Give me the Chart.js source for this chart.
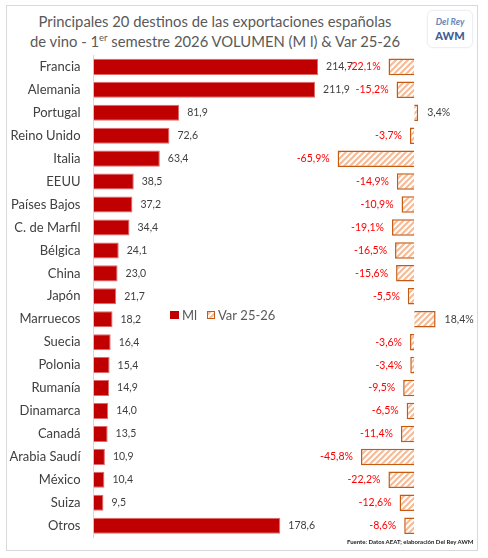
<!DOCTYPE html>
<html>
<head>
<meta charset="utf-8">
<script src="https://cdn.jsdelivr.net/npm/chart.js@4.4.1/dist/chart.umd.min.js"></script>
<style>
  body { margin: 0; background: #fff; font-family: Lato, sans-serif; }
  #marco { position: absolute; left: 6px; top: 5px; width: 470px; height: 544px; border: 1px solid #d9d9d9; }
  #titulo { position: absolute; left: 6px; top: 11px; width: 418px; text-align: center; color: #595959; font-size: 14.8px; line-height: 20px; }
  #titulo sup { font-size: 9.5px; line-height: 0; }
  #logo { position: absolute; left: 427px; top: 10px; width: 44px; height: 36px; border: 1px solid #eceff3; border-radius: 6px; text-align: center; box-shadow: 0 0 2px #eef0f4; }
  #logo .a { font-style: italic; font-weight: bold; color: #6a86bb; font-size: 9px; margin-top: 5px; }
  #logo .b { font-weight: 900; color: #3f5d96; font-size: 11px; margin-top: 2px; }
  #grafico { position: absolute; left: 0; top: 0; }
  #fuente { position: absolute; left: 347px; top: 538px; font-size: 6px; font-weight: bold; color: #222; white-space: nowrap; }
</style>
</head>
<body>
<div id="marco"></div>
<div id="titulo">Principales 20 destinos de las exportaciones españolas<br>de vino - 1<sup>er</sup> semestre 2026 VOLUMEN (M l) &amp; Var 25-26</div>
<div id="logo"><div class="a">Del Rey</div><div class="b">AWM</div></div>
<canvas id="grafico" width="488" height="558"></canvas>
<div id="fuente">Fuente: Datos AEAT; elaboración Del Rey AWM</div>
<script>
const paises = ['Francia', 'Alemania', 'Portugal', 'Reino Unido', 'Italia', 'EEUU', 'Países Bajos', 'C. de Marfil', 'Bélgica', 'China', 'Japón', 'Marruecos', 'Suecia', 'Polonia', 'Rumanía', 'Dinamarca', 'Canadá', 'Arabia Saudí', 'México', 'Suiza', 'Otros'];
const volumen = [214.7, 211.9, 81.9, 72.6, 63.4, 38.5, 37.2, 34.4, 24.1, 23.0, 21.7, 18.2, 16.4, 15.4, 14.9, 14.0, 13.5, 10.9, 10.4, 9.5, 178.6];
const variacion = [-22.1, -15.2, 3.4, -3.7, -65.9, -14.9, -10.9, -19.1, -16.5, -15.6, -5.5, 18.4, -3.6, -3.4, -9.5, -6.5, -11.4, -45.8, -22.2, -12.6, -8.6];

// trama rayada para la serie de variacion
function trama() {
  const c = document.createElement('canvas');
  c.width = 6; c.height = 6;
  const g = c.getContext('2d');
  g.fillStyle = '#fff';
  g.fillRect(0, 0, 6, 6);
  g.strokeStyle = '#f5b994';
  g.lineWidth = 2;
  g.beginPath();
  g.moveTo(0, 6); g.lineTo(6, 0);
  g.moveTo(-3, 3); g.lineTo(3, -3);
  g.moveTo(3, 9); g.lineTo(9, 3);
  g.stroke();
  return g.createPattern(c, 'repeat');
}
const rayas = trama();

const coma = (v, d) => v.toFixed(d).replace('.', ',');

// etiquetas de valor y leyenda
const etiquetas = {
  id: 'etiquetas',
  afterDatasetsDraw(chart) {
    const ctx = chart.ctx;
    ctx.save();
    ctx.font = '10.5px Lato';
    ctx.textBaseline = 'middle';
    chart.getDatasetMeta(0).data.forEach((bar, i) => {
      ctx.fillStyle = '#404040';
      ctx.textAlign = 'left';
      ctx.fillText(coma(volumen[i], 1), bar.x + 8, bar.y);
    });
    chart.getDatasetMeta(1).data.forEach((bar, i) => {
      const v = variacion[i];
      if (v < 0) {
        ctx.fillStyle = '#ff0000';
        ctx.textAlign = 'right';
        ctx.fillText(coma(v, 1) + '%', bar.x - 8, bar.y);
      } else {
        ctx.fillStyle = '#404040';
        ctx.textAlign = 'left';
        ctx.fillText(coma(v, 1) + '%', bar.x + 9, bar.y);
      }
    });

    // leyenda
    const ds = chart.data.datasets;
    ctx.font = '13px Lato';
    ctx.textAlign = 'left';
    ctx.fillStyle = '#c00000';
    ctx.fillRect(170, 311, 9, 8);
    ctx.fillStyle = '#595959';
    ctx.fillText(ds[0].label, 182, 315.5);
    ctx.fillStyle = rayas;
    ctx.fillRect(207.5, 311.5, 7, 7);
    ctx.strokeStyle = '#c55a11';
    ctx.lineWidth = 1;
    ctx.strokeRect(207.5, 311.5, 7, 7);
    ctx.fillStyle = '#595959';
    ctx.fillText(ds[1].label, 218, 315.5);
    ctx.restore();
  }
};

new Chart(document.getElementById('grafico'), {
  type: 'bar',
  data: {
    labels: paises,
    datasets: [{
      label: 'Ml',
      data: volumen,
      xAxisID: 'x',
      backgroundColor: '#c00000',
      borderColor: '#e06a6a',
      borderWidth: 1,
      grouped: false,
      barPercentage: 0.7,
      categoryPercentage: 1
    }, {
      label: 'Var 25-26',
      data: variacion,
      xAxisID: 'x2',
      backgroundColor: rayas,
      borderColor: '#c55a11',
      borderWidth: 1.5,
      grouped: false,
      barPercentage: 0.72,
      categoryPercentage: 1
    }]
  },
  options: {
    responsive: false,
    animation: false,
    indexAxis: 'y',
    layout: { padding: { top: 55.4, bottom: 16.7, left: 0, right: 18 } },
    plugins: {
      legend: { display: false },
      tooltip: { enabled: false }
    },
    scales: {
      y: {
        offset: true,
        grid: { display: false, drawTicks: false },
        border: { display: true, color: '#d9d9d9' },
        ticks: { color: '#404040', font: { size: 13, family: 'Lato' }, padding: 13 },
        afterFit: s => { s.width = 93.5; }
      },
      x: { display: false, min: 0, max: 360 },
      x2: { display: false, min: -276, max: 48 }
    }
  },
  plugins: [etiquetas]
});
</script>
</body>
</html>
